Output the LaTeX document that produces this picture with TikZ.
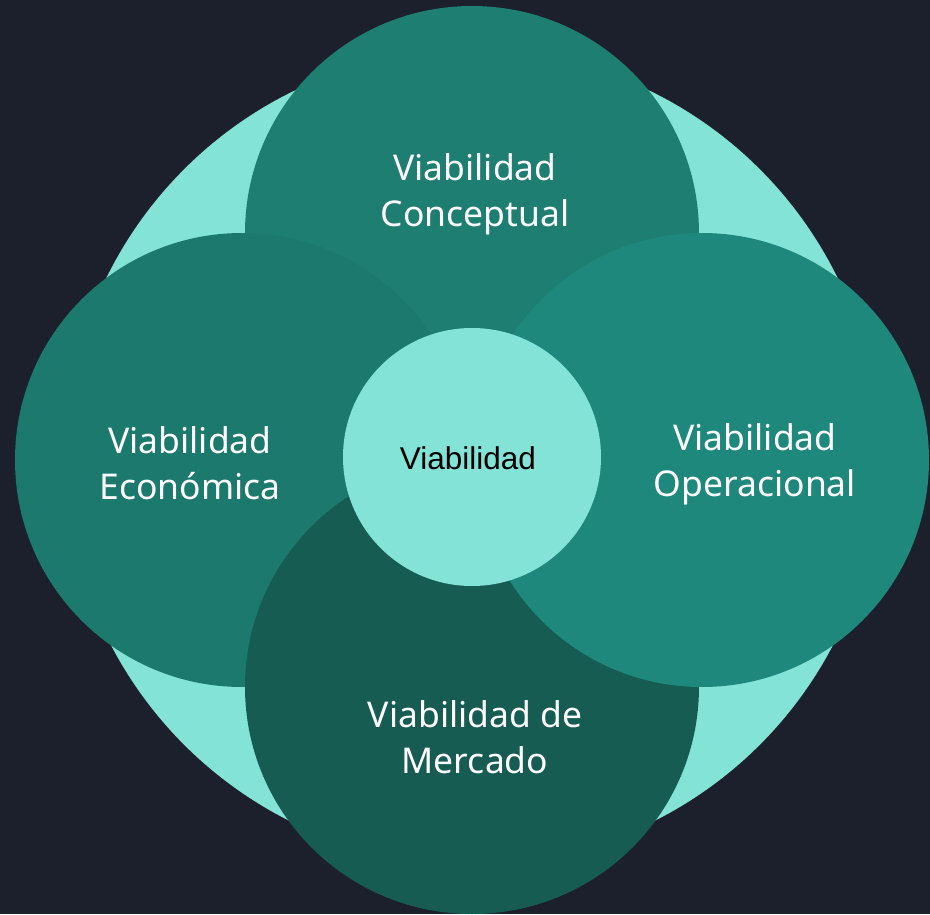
\documentclass[tikz,border=0pt]{standalone}
\usepackage{fontspec}
\setmainfont{Noto Sans}
\newfontfamily\hubfont{Liberation Sans}
\definecolor{bgnavy}{HTML}{1C202C}
\definecolor{ringteal}{HTML}{84E3D7}
\definecolor{topteal}{HTML}{1E7E71}
\definecolor{leftteal}{HTML}{1C796D}
\definecolor{rightteal}{HTML}{1F887C}
\definecolor{bottomteal}{HTML}{165C53}
\tikzset{
  petal/.style={font=\fontsize{35.5}{46}\selectfont, text=white, align=center},
  hub/.style={font=\hubfont\fontsize{31.5}{36}\selectfont, text=black}
}

\begin{document}
\begin{tikzpicture}[x=1pt,y=1pt]
\fill[bgnavy] (-472,-457) rectangle (458,457);
\useasboundingbox (-472,-457) rectangle (458,457);

\fill[ringteal] (0,0) circle(407);

\fill[topteal]    (0,224)   circle(227);
\fill[leftteal]   (-230,-3) circle(227);
\fill[bottomteal] (0,-230)  circle(227);
\fill[rightteal]  (230,-3)  circle(227);

\fill[ringteal] (0,0) circle(129);

\node[petal] (conceptual) at (3,263)   {Viabilidad\\Conceptual};
\node[petal] (economica)  at (-282,-6) {Viabilidad\\Económica};
\node[petal] (operacional) at (283,-7) {Viabilidad\\Operacional};
\node[petal] (mercado)    at (3,-280)  {Viabilidad de\\Mercado};
\node[hub]   (viabilidad) at (-4,-1)   {Viabilidad};

\end{tikzpicture}
\end{document}
